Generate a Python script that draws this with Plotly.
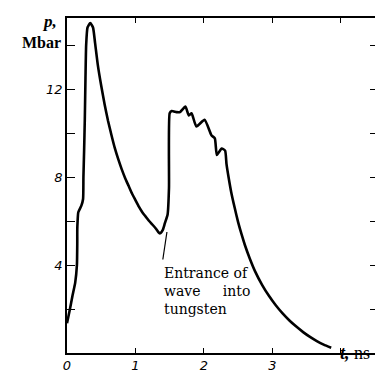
import plotly.graph_objects as go

# Pressure history p(t) in the target, Mbar vs ns
t_ns = [0.00, 0.04, 0.08, 0.12, 0.145, 0.15, 0.15, 0.155, 0.165, 0.21, 0.235,
        0.24, 0.25, 0.26, 0.27, 0.28, 0.30, 0.34, 0.38, 0.41, 0.45, 0.50,
        0.55, 0.60, 0.65, 0.70, 0.75, 0.80, 0.85, 0.90, 0.95, 1.00, 1.05,
        1.10, 1.15, 1.20, 1.25, 1.30, 1.34, 1.36, 1.40, 1.43, 1.47,
        1.49, 1.50, 1.53, 1.60, 1.65, 1.73, 1.78, 1.82, 1.89, 2.01, 2.11,
        2.16, 2.19, 2.26, 2.31, 2.33, 2.36, 2.40, 2.45, 2.50, 2.55, 2.60,
        2.67, 2.75, 2.85, 2.95, 3.05, 3.15, 3.25, 3.35, 3.45, 3.55, 3.65,
        3.75, 3.86]
p_mbar = [1.35, 1.95, 2.6, 3.2, 4.0, 5.0, 5.6, 6.0, 6.4, 6.7, 7.0,
          8.0, 9.2, 10.6, 12.5, 14.0, 14.8, 15.0, 14.8, 14.1, 13.1, 12.15,
          11.3, 10.55, 9.9, 9.3, 8.8, 8.35, 7.95, 7.6, 7.25, 6.95, 6.65,
          6.4, 6.2, 6.0, 5.83, 5.65, 5.48, 5.44, 5.6, 5.9, 6.3,
          7.5, 10.9, 11.0, 10.95, 10.95, 11.2, 10.8, 10.9, 10.3, 10.6, 9.9,
          9.76, 9.0, 9.3, 9.2, 8.6, 8.0, 7.3, 6.6, 5.95, 5.4, 4.9,
          4.3, 3.7, 3.1, 2.6, 2.17, 1.8, 1.48, 1.2, 0.95, 0.73, 0.54,
          0.38, 0.24]

x_tickvals = [0, 1, 2, 3, 4]
x_ticktext = ["0", "1", "2", "3", ""]
y_tickvals = [2, 4, 6, 8, 10, 12, 14]
y_ticktext = ["", "4", "", "8", "", "12", ""]

# leader line from the entrance point to the note
leader_t = [1.46, 1.40]
leader_p = [5.5, 4.25]

W, H = 375, 373
ML, MR, MT, MB = 67, 0, 18, 20
PW, PH = W - ML - MR, H - MT - MB


def px_x(X):
    return (X - ML) / PW


def px_y(Y):
    return (H - MB - Y) / PH


tick_font = dict(family="DejaVu Sans", size=13, color="black", style="italic")
serif = "Liberation Serif"

fig = go.Figure()
fig.add_trace(go.Scatter(x=t_ns, y=p_mbar, mode="lines",
                         line=dict(color="black", width=2.6,
                                   shape="spline", smoothing=0.5),
                         showlegend=False, hoverinfo="skip"))
fig.add_trace(go.Scatter(x=leader_t, y=leader_p, mode="lines",
                         line=dict(color="black", width=1.2),
                         showlegend=False, hoverinfo="skip"))
# right-hand ticks without an axis line
fig.add_trace(go.Scatter(x=[None], y=[None], yaxis="y2", showlegend=False))

fig.update_layout(
    width=W, height=H,
    margin=dict(l=ML, r=MR, t=MT, b=MB),
    paper_bgcolor="white", plot_bgcolor="white",
    xaxis=dict(range=[0, 4.5], tickvals=x_tickvals, ticktext=x_ticktext,
               ticks="inside", ticklen=5, tickwidth=1.2, tickcolor="black",
               showline=True, linecolor="black", linewidth=1.6,
               mirror="ticks", showgrid=False, zeroline=False,
               tickfont=tick_font),
    yaxis=dict(range=[0, 15.23], tickvals=y_tickvals, ticktext=y_ticktext,
               ticks="inside", ticklen=8, tickwidth=1.2, tickcolor="black",
               showline=True, linecolor="black", linewidth=1.6,
               showgrid=False, zeroline=False, tickfont=tick_font),
    yaxis2=dict(range=[0, 15.23], overlaying="y", side="right",
                tickvals=y_tickvals, ticks="inside", ticklen=5,
                tickwidth=1.2, tickcolor="black", showticklabels=False,
                showline=False, showgrid=False, zeroline=False),
)

fig.add_annotation(x=1.39, y=3.64, xref="x", yref="y", xanchor="left",
                   yanchor="top", align="left", showarrow=False,
                   yshift=10,
                   text="Entrance of<br>wave&nbsp;&nbsp;&nbsp;&nbsp;&nbsp;into<br>tungsten",
                   font=dict(family="DejaVu Serif", size=14, color="black"))
fig.add_annotation(x=px_x(40), y=px_y(10), xref="paper", yref="paper",
                   showarrow=False, text="<b><i>p,</i></b>",
                   font=dict(family=serif, size=17, color="black"))
fig.add_annotation(x=px_x(63), y=px_y(32), xref="paper", yref="paper",
                   xanchor="right", showarrow=False, text="<b>Mbar</b>",
                   font=dict(family=serif, size=16, color="black"))
fig.add_annotation(x=px_x(338), y=px_y(365), xref="paper", yref="paper",
                   xanchor="left", showarrow=False,
                   text="<b><i>t,</i></b> ns",
                   font=dict(family=serif, size=18, color="black"))

fig.write_html("out.html")
